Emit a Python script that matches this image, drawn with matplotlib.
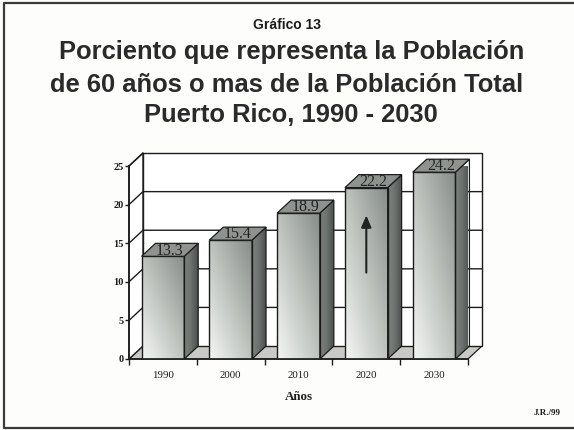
"""Gráfico 13: share of population aged 60+ in Puerto Rico, faux 3-D bars."""
import matplotlib
matplotlib.use('Agg')
import matplotlib.pyplot as plt
import numpy as np
from matplotlib.colors import LinearSegmentedColormap
from matplotlib.lines import Line2D
from matplotlib.patches import Polygon, Rectangle

years = ['1990', '2000', '2010', '2020', '2030']
values = [13.3, 15.4, 18.9, 22.2, 24.2]
value_labels = ['13.3', '15.4', '18.9', '22.2', '24.2']
yticks = [0, 5, 10, 15, 20, 25]

W, H = 574, 430
DX, DY = 0.206, 1.68   # depth of the fake 3-D box, in data units
BAR_W = 0.63
SERIF = 'Liberation Serif'
SANS = 'Liberation Sans'
INK = '#1c1c1c'

front_cmap = LinearSegmentedColormap.from_list('front', ['#f4f6f4', '#bec3be', '#878d89'])
side_cmap = LinearSegmentedColormap.from_list('side', ['#7f8380', '#6d716e', '#4c4f4d'])

fig = plt.figure(figsize=(W / 100, H / 100), dpi=100, facecolor='#fdfdfb')
ax = fig.add_axes([129 / W, 1 - 359 / H, 339 / W, 193 / H])
ax.set_xlim(-0.5, 4.5)
ax.set_ylim(0, 25)
ax.patch.set_visible(False)

# page frame: the scan cuts off its right side
fig.add_artist(Line2D([574 / W, 4 / W, 4 / W, 574 / W],
                      [1 - 3 / H, 1 - 3 / H, 1 - 428 / H, 1 - 428 / H],
                      transform=fig.transFigure, color='#3a3a3a', lw=1.6))

# floor, back wall and left wall
ax.add_patch(Polygon([(-0.5, 0), (4.5, 0), (4.5 + DX, DY), (-0.5 + DX, DY)],
                     fc='#c9c9c6', ec=INK, lw=0.9, clip_on=False, zorder=1))
ax.add_patch(Polygon([(-0.5 + DX, DY), (4.5 + DX, DY), (4.5 + DX, 25 + DY), (-0.5 + DX, 25 + DY)],
                     fc='white', ec=INK, lw=1, clip_on=False, zorder=1))
ax.add_patch(Polygon([(-0.5, 0), (-0.5 + DX, DY), (-0.5 + DX, 25 + DY), (-0.5, 25)],
                     fc='white', ec=INK, lw=1, clip_on=False, zorder=1))
for t in yticks[1:-1]:
    ax.plot([-0.5, -0.5 + DX, 4.5 + DX], [t, t + DY, t + DY], color=INK, lw=1,
            clip_on=False, zorder=2)
ax.plot([-0.5, -0.5 + DX], [25, 25 + DY], color=INK, lw=1, clip_on=False, zorder=2)

grad = np.linspace(0, 1, 64)
front_img = np.add.outer(grad[::-1], grad) / 2   # light at bottom left, dark at top right
side_img = np.tile(grad, (2, 1))

for i, v in enumerate(values):
    x0, x1 = i - BAR_W / 2, i + BAR_W / 2
    # right side face
    side = Polygon([(x1, 0), (x1 + DX, DY), (x1 + DX, v + DY), (x1, v)], fc='none', ec=INK,
                   lw=0.9, clip_on=False, zorder=4)
    ax.add_patch(side)
    im = ax.imshow(side_img, extent=(x1, x1 + DX, 0, v + DY), cmap=side_cmap, aspect='auto',
                   zorder=3, interpolation='bilinear')
    im.set_clip_path(Polygon(side.get_xy(), transform=ax.transData))
    # front face
    im = ax.imshow(front_img, extent=(x0, x1, 0, v), cmap=front_cmap, aspect='auto', vmin=0,
                   vmax=1, zorder=3, interpolation='bilinear')
    ax.add_patch(Rectangle((x0, 0), BAR_W, v, fill=False, ec=INK, lw=1, zorder=4))
    # top face with the value printed on it
    ax.add_patch(Polygon([(x0, v), (x1, v), (x1 + DX, v + DY), (x0 + DX, v + DY)],
                         fc='#8f938f', ec=INK, lw=0.9, clip_on=False, zorder=4))
    ax.text(i + DX / 2, v + DY / 2 - 0.1, value_labels[i], ha='center', va='center', fontsize=11.5,
            family=SERIF, color='#222222', zorder=5, clip_on=False)

# arrow drawn on the 2020 bar
ax.annotate('', xy=(3, 18.6), xytext=(3, 11.2), zorder=6,
            arrowprops=dict(arrowstyle='-|>,head_width=0.3,head_length=0.7', color='#222222', lw=1.5,
                            shrinkA=0, shrinkB=0))

ax.set_xticks(np.arange(-0.5, 5))
ax.set_xticklabels([])
ax.set_xticks(range(5), labels=years, minor=True, family=SERIF, fontsize=7.8, color=INK)
ax.tick_params(axis='x', which='major', length=4, width=1, color=INK)
ax.tick_params(axis='x', which='minor', length=0, pad=9)
ax.set_yticks(yticks)
ax.set_yticklabels(yticks, family=SERIF, fontsize=7.5, fontweight='bold', color=INK)
ax.tick_params(axis='y', length=3, width=1, color=INK, pad=1)
for s in ('top', 'right'):
    ax.spines[s].set_visible(False)
for s in ('left', 'bottom'):
    ax.spines[s].set_linewidth(1.2)
    ax.spines[s].set_color(INK)
    ax.spines[s].set_zorder(5)
ax.set_xlim(-0.5, 4.5)
ax.set_ylim(0, 25)
ax.text(0.5, -0.197, 'Años', transform=ax.transAxes, ha='center', va='center', family=SERIF,
        fontsize=9.4, fontweight='bold', color=INK)

fig.text(287 / W, 1 - 25 / H, 'Gráfico 13', ha='center', va='center', family=SANS,
         fontsize=10, fontweight='bold', color=INK)
fig.text(292 / W, 1 - 52.5 / H, 'Porciento que representa la Población', ha='center', va='center',
         family=SANS, fontsize=18.4, fontweight='bold', color='#2a2a2a')
fig.text(287 / W, 1 - 85 / H, 'de 60 años o mas de la Población Total', ha='center', va='center',
         family=SANS, fontsize=18.4, fontweight='bold', color='#2a2a2a')
fig.text(291 / W, 1 - 114.5 / H, 'Puerto Rico, 1990 - 2030', ha='center', va='center',
         family=SANS, fontsize=18.4, fontweight='bold', color='#2a2a2a')
fig.text(547 / W, 1 - 413 / H, 'J.R./99', ha='center', va='center', family=SERIF,
         fontsize=6.5, fontweight='bold', color=INK)

fig.savefig('out.png', dpi=100)
